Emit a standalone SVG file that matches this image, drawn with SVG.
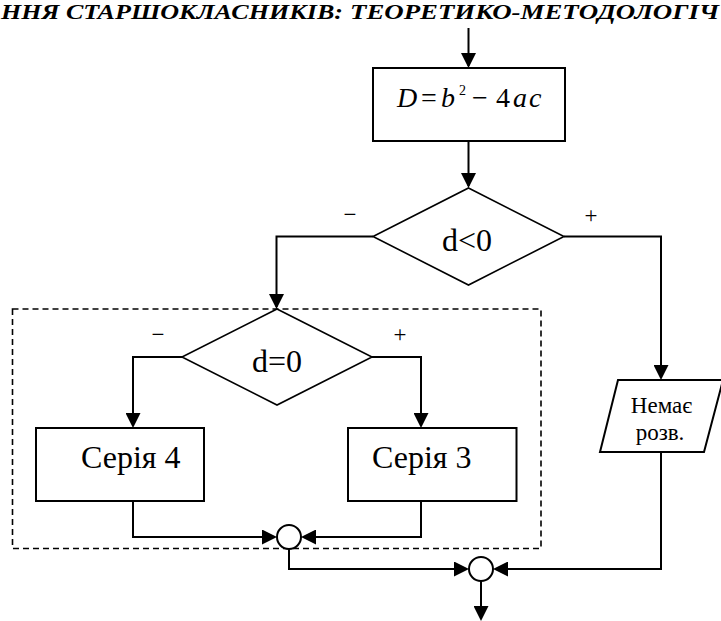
<svg xmlns="http://www.w3.org/2000/svg" width="721" height="621" viewBox="0 0 721 621">
  <style>
    text { font-family: "Liberation Serif", "Times New Roman", serif; fill: #000; }
    .head { font-size: 21px; font-weight: bold; font-style: italic; }
    .big { font-size: 32px; }
    .sign { font-size: 23px; }
    .small { font-size: 23px; }
    .math { font-size: 28px; }
    .it { font-style: italic; }
    .shape { fill: #fff; stroke: #000; stroke-width: 2; }
    .dia { fill: #fff; stroke: #000; stroke-width: 1.6; }
    .wire { fill: none; stroke: #000; stroke-width: 2; marker-end: url(#arrow); }
    .frame { fill: none; stroke: #000; stroke-width: 1.6; stroke-dasharray: 6 4; }
  </style>
  <defs>
    <marker id="arrow" viewBox="0 0 15 15" refX="13" refY="7.5" markerWidth="15" markerHeight="15" markerUnits="userSpaceOnUse" orient="auto">
      <path d="M0,0 L15,7.5 L0,15 z" fill="#000"/>
    </marker>
  </defs>

  <!-- running page header -->
  <g id="header">
    <text class="head" x="1" y="19" textLength="342" lengthAdjust="spacingAndGlyphs">ННЯ СТАРШОКЛАСНИКІВ:</text>
    <text class="head" x="350" y="19" textLength="369" lengthAdjust="spacingAndGlyphs">ТЕОРЕТИКО-МЕТОДОЛОГІЧ</text>
  </g>

  <!-- dashed frame around the inner branch -->
  <rect class="frame" x="12.5" y="309" width="528.5" height="239.5"/>

  <g id="connectors">
    <path class="wire" d="M468.5,28 V66"/>
    <path class="wire" d="M468.5,141 V186"/>
    <path class="wire" d="M373,236.5 H276.5 V307"/>
    <path class="wire" d="M564,236.5 H661 V378"/>
    <path class="wire" d="M182,357 H133 V426"/>
    <path class="wire" d="M372,357 H421 V426"/>
    <path class="wire" d="M133,501 V537 H275"/>
    <path class="wire" d="M421,501 V537 H303"/>
    <path class="wire" d="M289,549 V569 H467"/>
    <path class="wire" d="M661,452 V569 H495"/>
    <path class="wire" d="M481,581 V619"/>
  </g>

  <g id="discriminant">
    <rect class="shape" x="373" y="68" width="192" height="73"/>
    <text class="math" y="107">
      <tspan class="it" x="397">D</tspan><tspan x="421">=</tspan><tspan class="it" x="441">b</tspan><tspan x="459" y="95" font-size="14">2</tspan><tspan x="472" y="107">−</tspan><tspan x="496">4</tspan><tspan class="it" x="513">a</tspan><tspan class="it" x="529">c</tspan>
    </text>
  </g>

  <g id="check-negative">
    <polygon class="dia" points="468.5,188 564,236.5 468.5,285 373,236.5"/>
    <text class="big" x="467" y="251" text-anchor="middle">d&lt;0</text>
    <text class="sign" x="350" y="222" text-anchor="middle">−</text>
    <text class="sign" x="591" y="223" text-anchor="middle">+</text>
  </g>

  <g id="check-zero">
    <polygon class="dia" points="277,309 372,357 277,405 182,357"/>
    <text class="big" x="277" y="371.5" text-anchor="middle">d=0</text>
    <text class="sign" x="158" y="341.5" text-anchor="middle">−</text>
    <text class="sign" x="400" y="342" text-anchor="middle">+</text>
  </g>

  <g id="series-4">
    <rect class="shape" x="36" y="428" width="168" height="73"/>
    <text class="big" x="81" y="468">Серія 4</text>
  </g>

  <g id="series-3">
    <rect class="shape" x="348" y="428" width="168.5" height="73"/>
    <text class="big" x="372" y="468">Серія 3</text>
  </g>

  <g id="no-roots">
    <polygon class="shape" points="618,380 723,380 704,452 600,452"/>
    <text class="small" x="661.5" y="413" text-anchor="middle">Немає</text>
    <text class="small" x="660" y="440" text-anchor="middle">розв.</text>
  </g>

  <g id="join-inner">
    <circle class="shape" cx="289" cy="537" r="12"/>
  </g>

  <g id="join-outer">
    <circle class="shape" cx="481" cy="569" r="12"/>
  </g>
</svg>
